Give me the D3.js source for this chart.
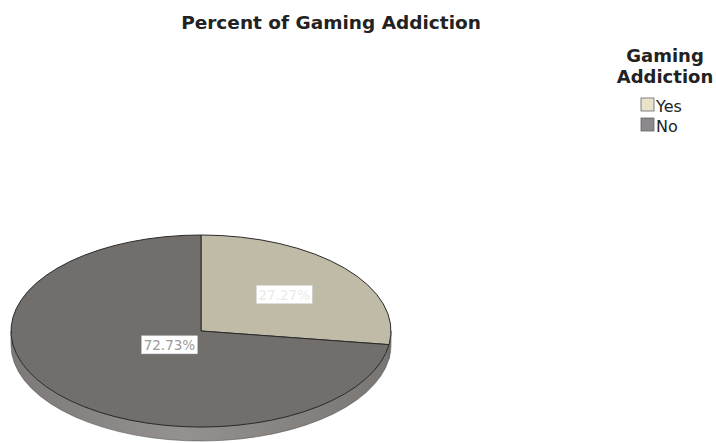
<!DOCTYPE html>
<html><head><meta charset="utf-8">
<script src="https://cdn.jsdelivr.net/npm/d3@7"></script>
<style>body{margin:0;background:#fff}svg{display:block}</style>
</head><body>
<svg id="c" width="716" height="443"></svg>
<script>
const categories = ["Yes", "No"];
const values = [27.27, 72.73];
const labels = ["27.27%", "72.73%"];
const legendTitle = ["Gaming", "Addiction"];
const title = "Percent of Gaming Addiction";

const topColors = {Yes: "#c0bba6", No: "#716e6c"};
const sideColors = {Yes: "#a29d88", No: "#8a8785"};
const legendColors = {Yes: "#e9e3c9", No: "#8c888b"};
const labelFrac = {Yes: 0.58, No: 0.22};
const labelText = {Yes: "#ebebeb", No: "#9a9a9a"};

const svg = d3.select("#c");
const font = "'DejaVu Sans', Verdana, sans-serif";
const cx = 201, cy = 331, rx = 190, ry = 96, depth = 14;

svg.append("text").attr("x", 331).attr("y", 29).attr("text-anchor", "middle")
  .attr("font-family", font).attr("font-weight", "bold").attr("font-size", 18.5)
  .attr("fill", "#222").text(title);

const pie = d3.pie().sort(null).value(d => d.v);
const arcs = pie(categories.map((c, i) => ({c, v: values[i], l: labels[i]})));

const P = (a, dy = 0) => [cx + rx * Math.sin(a), cy - ry * Math.cos(a) + dy];

// side gradient
const defs = svg.append("defs");
categories.forEach(c => {
  const base = d3.color(sideColors[c]);
  const gr = defs.append("linearGradient").attr("id", "side-" + c).attr("gradientUnits", "userSpaceOnUse")
    .attr("x1", cx - rx).attr("x2", cx + rx).attr("y1", 0).attr("y2", 0);
  gr.append("stop").attr("offset", 0).attr("stop-color", base.darker(0.3));
  gr.append("stop").attr("offset", 0.45).attr("stop-color", base.brighter(0.2));
  gr.append("stop").attr("offset", 1).attr("stop-color", base.darker(0.4));
});

// side (front half: angles between PI/2 and 3PI/2)
const g = svg.append("g");
arcs.forEach(a => {
  const a0 = Math.max(a.startAngle, Math.PI / 2), a1 = Math.min(a.endAngle, 3 * Math.PI / 2);
  if (a1 <= a0) return;
  const p0 = P(a0), p1 = P(a1), q0 = P(a0, depth), q1 = P(a1, depth);
  const d = `M${p0}A${rx},${ry} 0 0 1 ${p1}L${q1}A${rx},${ry} 0 0 0 ${q0}Z`;
  g.append("path").attr("d", d).attr("fill", `url(#side-${a.data.c})`)
    .attr("stroke", "#555").attr("stroke-width", 0.6);
});

// top face
arcs.forEach(a => {
  const p0 = P(a.startAngle), p1 = P(a.endAngle);
  const large = (a.endAngle - a.startAngle) > Math.PI ? 1 : 0;
  const d = `M${cx},${cy}L${p0}A${rx},${ry} 0 ${large} 1 ${p1}Z`;
  g.append("path").attr("d", d).attr("fill", topColors[a.data.c])
    .attr("stroke", "#2a2a2a").attr("stroke-width", 1);
});

// labels
arcs.forEach(a => {
  const m = (a.startAngle + a.endAngle) / 2, f = labelFrac[a.data.c];
  const x = cx + f * rx * Math.sin(m), y = cy - f * ry * Math.cos(m);
  const t = g.append("text").attr("x", x).attr("y", y + 5).attr("text-anchor", "middle")
    .attr("font-family", font).attr("font-size", 13.5).attr("fill", labelText[a.data.c]).text(a.data.l);
  const b = t.node().getBBox();
  g.insert("rect", () => t.node()).attr("x", b.x - 2).attr("y", b.y - 1)
    .attr("width", b.width + 4).attr("height", b.height + 2).attr("fill", "#fff")
    .attr("stroke", "#ddd").attr("stroke-width", 0.5);
});

// legend
const lg = svg.append("g");
legendTitle.forEach((t, i) => lg.append("text").attr("x", 665).attr("y", 62 + i * 21)
  .attr("text-anchor", "middle").attr("font-family", font).attr("font-weight", "bold")
  .attr("font-size", 18).attr("fill", "#222").text(t));
categories.forEach((c, i) => {
  lg.append("rect").attr("x", 641).attr("y", 98 + i * 20).attr("width", 13).attr("height", 13)
    .attr("fill", legendColors[c]).attr("stroke", "#666").attr("stroke-width", 0.8);
  lg.append("text").attr("x", 656).attr("y", 112 + i * 20).attr("font-family", font)
    .attr("font-size", 16).attr("fill", "#222").text(c);
});
</script>
</body></html>
